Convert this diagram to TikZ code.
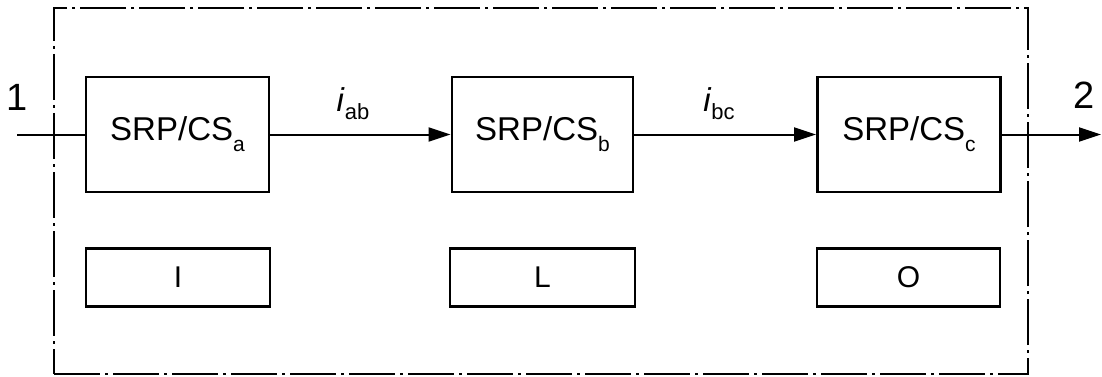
\documentclass[tikz,border=0pt]{standalone}
\usepackage{fontspec}
\setmainfont{Liberation Sans}
\usetikzlibrary{arrows.meta}
\tikzset{
  blk/.style={draw, line width=2.8pt, minimum height=115pt, inner sep=0pt, font=\fontsize{33}{33}\selectfont},
  sblk/.style={draw, line width=2.8pt, minimum height=58pt, inner sep=0pt, font=\fontsize{30}{30}\selectfont},
  frame/.style={draw, line width=2pt, dash pattern=on 46pt off 5pt on 3pt off 5pt, inner sep=0pt},
  conn/.style={line width=2pt},
  arr/.style={conn, -{Triangle[length=22pt,width=14pt]}},
  lbl/.style={inner sep=0pt, font=\fontsize{38}{38}\selectfont},
  cur/.style={inner sep=0pt, font=\fontsize{33}{33}\selectfont}
}
\newcommand{\sbs}[1]{\raisebox{-11pt}{\fontsize{21}{21}\selectfont #1}}
\begin{document}
\begin{tikzpicture}[x=1pt,y=-1pt]
\useasboundingbox (0,0) rectangle (1102,377);
\node[frame, minimum width=974pt, minimum height=366pt] (frame) at (541,191) {};
\node[blk, minimum width=183pt] (A) at (177.5,134.5) {SRP/CS\sbs{a}};
\node[blk, minimum width=181pt] (B) at (542.5,134.5) {SRP/CS\sbs{b}};
\node[blk, minimum width=183pt] (C) at (909,134.5) {SRP/CS\sbs{c}};
\node[sblk, minimum width=184pt] (I) at (178,277.5) {I};
\node[sblk, minimum width=185pt] (L) at (542.5,277.5) {L};
\node[sblk, minimum width=183pt] (O) at (908.5,277.5) {O};
\coordinate (in) at (17,134.5);
\coordinate (out) at (1101,134.5);
\draw[conn] (in) -- (A.west);
\draw[arr] (A.east) -- (B.west);
\draw[arr] (B.east) -- (C.west);
\draw[arr] (C.east) -- (out);
\node[lbl] (n1) at (17,97) {1};
\node[lbl] (n2) at (1084,95) {2};
\node[cur] (iab) at (353,104) {\textit{i}\raisebox{-8pt}{\fontsize{22}{22}\selectfont ab}};
\node[cur] (ibc) at (719,104) {\textit{i}\raisebox{-8pt}{\fontsize{22}{22}\selectfont bc}};
\end{tikzpicture}
\end{document}
